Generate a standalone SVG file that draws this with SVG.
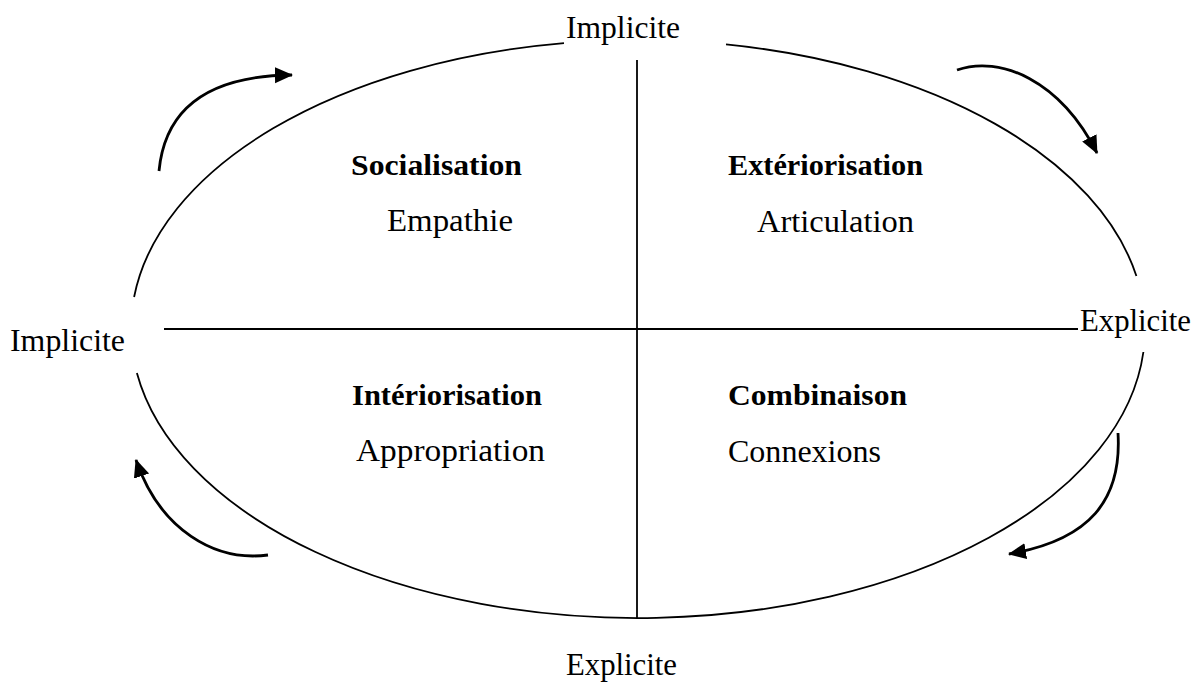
<svg xmlns="http://www.w3.org/2000/svg" width="1198" height="682" viewBox="0 0 1198 682">
  <style>
    .t { font-family: "Liberation Serif", "Times New Roman", serif; font-size: 31px; fill: #000; }
    .b { font-family: "Liberation Serif", "Times New Roman", serif; font-size: 30px; font-weight: bold; fill: #000; }
    .ln { fill: none; stroke: #000; stroke-width: 1.8; }
    .arr { fill: none; stroke: #000; stroke-width: 2.8; marker-end: url(#ah); }
  </style>
  <defs>
    <marker id="ah" markerUnits="userSpaceOnUse" markerWidth="20" markerHeight="18" refX="17" refY="8" orient="auto">
      <path d="M0,0 L18,8 L0,16 z" fill="#000"/>
    </marker>
  </defs>
  <rect width="1198" height="682" fill="#fff"/>

  <g id="frame">
    <path class="ln" d="M564,43.1 A507,289 0 0 0 134.1,297"/>
    <path class="ln" d="M136.9,373 A507,289 0 0 0 1143.4,352"/>
    <path class="ln" d="M1136.4,276 A507,289 0 0 0 726,44.4"/>
    <line class="ln" x1="637" y1="60" x2="637" y2="618"/>
    <line class="ln" x1="164" y1="329" x2="1078" y2="329"/>
  </g>

  <g id="axis-labels">
    <text class="t" x="566" y="38" textLength="114" lengthAdjust="spacingAndGlyphs">Implicite</text>
    <text class="t" x="10" y="351" textLength="115" lengthAdjust="spacingAndGlyphs">Implicite</text>
    <text class="t" x="1080" y="331" textLength="111" lengthAdjust="spacingAndGlyphs">Explicite</text>
    <text class="t" x="566" y="675" textLength="111" lengthAdjust="spacingAndGlyphs">Explicite</text>
  </g>

  <g id="socialisation">
    <text class="b" x="351" y="175" textLength="171" lengthAdjust="spacingAndGlyphs">Socialisation</text>
    <text class="t" x="387" y="231" textLength="126" lengthAdjust="spacingAndGlyphs">Empathie</text>
  </g>
  <g id="exteriorisation">
    <text class="b" x="728" y="175" textLength="195" lengthAdjust="spacingAndGlyphs">Extériorisation</text>
    <text class="t" x="757" y="232" textLength="157" lengthAdjust="spacingAndGlyphs">Articulation</text>
  </g>
  <g id="interiorisation">
    <text class="b" x="352" y="405" textLength="190" lengthAdjust="spacingAndGlyphs">Intériorisation</text>
    <text class="t" x="356" y="461" textLength="189" lengthAdjust="spacingAndGlyphs">Appropriation</text>
  </g>
  <g id="combinaison">
    <text class="b" x="728" y="405" textLength="179" lengthAdjust="spacingAndGlyphs">Combinaison</text>
    <text class="t" x="728" y="462" textLength="153" lengthAdjust="spacingAndGlyphs">Connexions</text>
  </g>

  <g id="connectors">
    <path class="arr" d="M159,171 Q168,76 292,75"/>
    <path class="arr" d="M957,70 C1000,55 1060,80 1097,153"/>
    <path class="arr" d="M268,555 C215,562 160,530 136,460"/>
    <path class="arr" d="M1118,433 C1122,500 1090,540 1009,554"/>
  </g>
</svg>
